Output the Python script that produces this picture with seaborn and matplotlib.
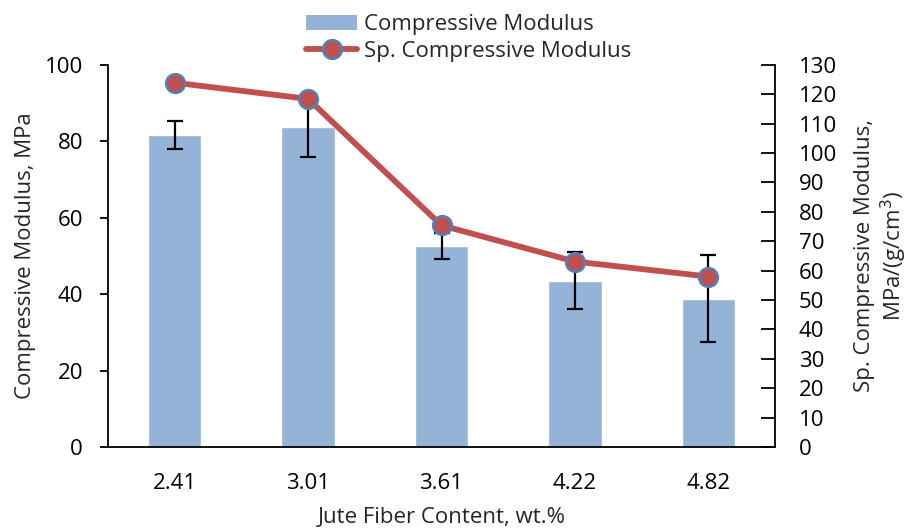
import matplotlib
matplotlib.use("Agg")
import matplotlib.pyplot as plt
from matplotlib.lines import Line2D
from matplotlib.patches import Patch
import seaborn as sns
import pandas as pd

# Data
fiber_content = ["2.41", "3.01", "3.61", "4.22", "4.82"]
comp_modulus = [81.7, 83.8, 52.6, 43.5, 38.8]          # MPa
comp_modulus_err = [3.6, 8.0, 3.4, 7.5, 11.4]          # MPa
sp_comp_modulus = [123.9, 118.4, 75.4, 63.1, 58.0]     # MPa/(g/cm3)

bar_color = "#95B3D7"
line_color = "#C0504D"
marker_edge = "#4F81BD"
FS = 16

sns.set_theme(style="white")
plt.rcParams["font.family"] = ["Open Sans", "DejaVu Sans"]
plt.rcParams["axes.edgecolor"] = "black"
plt.rcParams["axes.linewidth"] = 1.3

df = pd.DataFrame({"content": fiber_content,
                   "modulus": comp_modulus,
                   "err": comp_modulus_err,
                   "sp_modulus": sp_comp_modulus})

fig = plt.figure(figsize=(9.08, 5.31), dpi=100)
ax = fig.add_axes([0.119, 0.158, 0.7345, 0.720])

sns.barplot(data=df, x="content", y="modulus", color=bar_color,
            saturation=1, width=0.4, errorbar=None, ax=ax, zorder=2)
ax.errorbar(range(len(df)), df["modulus"], yerr=df["err"], fmt="none",
            ecolor="black", elinewidth=1.6, capsize=6, capthick=1.6, zorder=3)

ax.set_ylim(0, 100)
ax.set_yticks(range(0, 101, 20))
ax.set_xlim(-0.5, len(df) - 0.5)
ax.tick_params(axis="y", direction="out", length=6, width=1.3, pad=12,
               labelsize=FS, left=True, colors="black")
ax.tick_params(axis="x", length=0, pad=19, labelsize=FS, colors="black")
ax.set_xlabel("Jute Fiber Content, wt.%", fontsize=FS, labelpad=9)
ax.set_ylabel("Compressive Modulus, MPa", fontsize=FS, labelpad=6)
ax.spines["top"].set_visible(False)
ax.spines["right"].set_visible(False)

ax2 = ax.twinx()
sns.pointplot(data=df, x="content", y="sp_modulus", color=line_color,
              markers="o", linestyles="-", errorbar=None, ax=ax2,
              markersize=13.5, markeredgecolor=marker_edge,
              markeredgewidth=1.8, linewidth=4.2)
ax2.set_ylim(0, 130)
ax2.set_yticks(range(0, 131, 10))
ax2.set_xlim(-0.5, len(df) - 0.5)
ax2.tick_params(axis="y", direction="in", length=10, width=1.3, pad=17,
                labelsize=FS, right=True, colors="black")
ax2.set_ylabel("Sp. Compressive Modulus,\nMPa/(g/cm$^3$)", fontsize=FS,
               labelpad=12, linespacing=1.2)
ax2.spines["top"].set_visible(False)
ax2.spines["left"].set_visible(False)
ax2.spines["bottom"].set_visible(False)

handles = [Patch(facecolor=bar_color, edgecolor="none"),
           Line2D([0], [0], color=line_color, linewidth=4.2, marker="o",
                  markersize=13.5, markerfacecolor=line_color,
                  markeredgecolor=marker_edge, markeredgewidth=1.8)]
fig.legend(handles, ["Compressive Modulus", "Sp. Compressive Modulus"],
           loc="upper center", bbox_to_anchor=(0.516, 0.99), frameon=False,
           fontsize=FS, handlelength=2.3, handleheight=0.7,
           labelspacing=0.25, handletextpad=0.3, borderaxespad=0)

fig.savefig("out.png", dpi=100)
